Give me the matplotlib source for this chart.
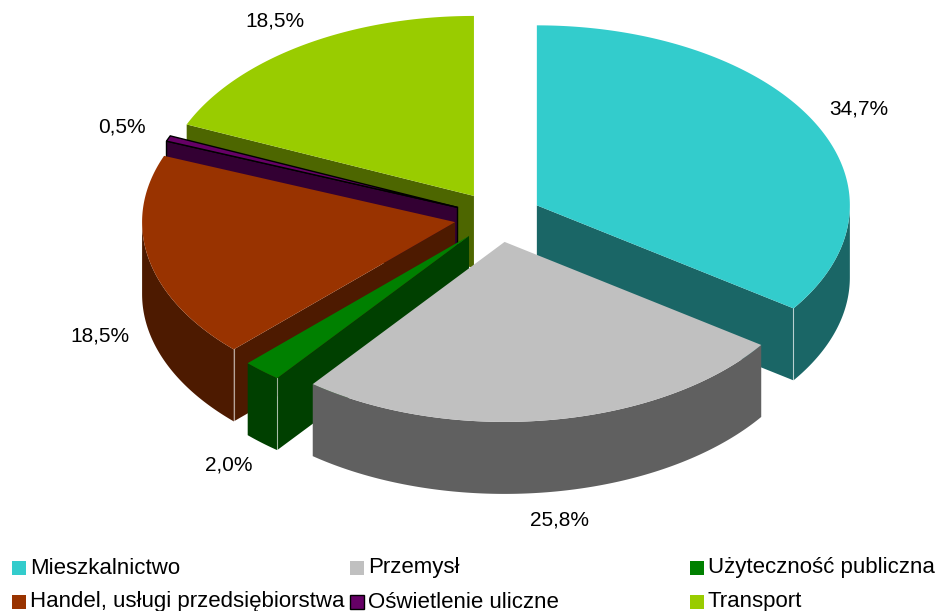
import numpy as np
import matplotlib
matplotlib.use("Agg")
import matplotlib.pyplot as plt
from matplotlib.patches import Polygon, Rectangle

# energy use by sector, share in percent (clockwise from 12 o'clock)
categories = [
    "Mieszkalnictwo",
    "Przemysł",
    "Użyteczność publiczna",
    "Handel, usługi przedsiębiorstwa",
    "Oświetlenie uliczne",
    "Transport",
]
shares = [34.7, 25.8, 2.0, 18.5, 0.5, 18.5]
top_colors = ["#33CCCC", "#C0C0C0", "#008000", "#993300", "#660066", "#99CC00"]
side_colors = ["#1A6666", "#606060", "#004000", "#4D1A00", "#330033", "#4D6600"]
legend_rows = [[0, 1, 2], [3, 4, 5]]

plt.rcParams["font.family"] = ["Liberation Sans", "DejaVu Sans"]

W, H = 938, 611
fig = plt.figure(figsize=(W / 100, H / 100), dpi=100)
ax = fig.add_axes([0, 0, 1, 1])
ax.set_xlim(0, W)
ax.set_ylim(H, 0)
ax.axis("off")

# pie geometry in pixel units (y grows downward)
CX, CY = 498, 217
RX, RY = 313, 180
DEPTH = 72
EXPLODE = 0.14
LABEL_R = 1.3


def rim(ox, oy, deg, dz=0.0):
    t = np.radians(deg)
    return ox + RX * np.sin(t), oy - RY * np.cos(t) + dz


edges = np.concatenate([[0], np.cumsum(shares)]) * 3.6
slices = []
for i, v in enumerate(shares):
    a0, a1 = edges[i], edges[i + 1]
    mid = 0.5 * (a0 + a1)
    ox, oy = rim(CX, CY, mid)
    ox = CX + EXPLODE * (ox - CX)
    oy = CY + EXPLODE * (oy - CY)
    slices.append((i, a0, a1, mid, ox, oy))

# back-to-front painting
slices.sort(key=lambda s: -np.cos(np.radians(s[3])))

z = 1
for i, a0, a1, mid, ox, oy in slices:
    top, side = top_colors[i], side_colors[i]
    ec = "black" if categories[i] == "Oświetlenie uliczne" else "none"
    lw = 1.0 if ec != "none" else 0

    # radial faces turned toward the viewer
    faces = []
    if np.sin(np.radians(a0)) < -1e-9:
        faces.append(a0)
    if np.sin(np.radians(a1)) > 1e-9:
        faces.append(a1)
    for a in faces:
        x1, y1 = rim(ox, oy, a)
        pts = [(ox, oy), (x1, y1), (x1, y1 + DEPTH), (ox, oy + DEPTH)]
        ax.add_patch(Polygon(pts, closed=True, facecolor=side, edgecolor=ec,
                             linewidth=lw, zorder=z))
        z += 1

    # curved outer wall on the front half
    w0, w1 = max(a0, 90.0), min(a1, 270.0)
    if w1 > w0:
        th = np.linspace(w0, w1, max(3, int((w1 - w0) * 2)))
        xs, ys = rim(ox, oy, th)
        pts = np.column_stack([np.concatenate([xs, xs[::-1]]),
                               np.concatenate([ys, ys[::-1] + DEPTH])])
        ax.add_patch(Polygon(pts, closed=True, facecolor=side, edgecolor=ec,
                             linewidth=lw, zorder=z))
        z += 1
        for a in faces:
            if 90.0 < a < 270.0:
                x1, y1 = rim(ox, oy, a)
                ax.plot([x1, x1], [y1, y1 + DEPTH], color="white", alpha=0.6,
                        linewidth=0.8, zorder=z)
        z += 1

    # top face
    th = np.linspace(a0, a1, max(3, int((a1 - a0) * 2)))
    xs, ys = rim(ox, oy, th)
    pts = np.column_stack([np.concatenate([[ox], xs]), np.concatenate([[oy], ys])])
    ax.add_patch(Polygon(pts, closed=True, facecolor=top, edgecolor=ec,
                         linewidth=lw, zorder=z))
    z += 1

# percentage labels outside each slice
for i, a0, a1, mid, ox, oy in slices:
    lx, ly = rim(CX, CY, mid)
    lx = CX + LABEL_R * (lx - CX)
    ly = CY + LABEL_R * (ly - CY)
    if np.cos(np.radians(mid)) < 0:
        ly += DEPTH
    txt = f"{shares[i]:.1f}%".replace(".", ",")
    ax.text(lx, ly, txt, fontsize=15, ha="center", va="center", color="black",
            zorder=z)

# legend, three columns by two rows
col_x = [12, 350, 690]
row_y = [568, 602]
SQ = 14
for r, row in enumerate(legend_rows):
    for c, idx in enumerate(row):
        x, y = col_x[c], row_y[r]
        ec = "black" if categories[idx] == "Oświetlenie uliczne" else "none"
        ax.add_patch(Rectangle((x, y - SQ / 2), SQ, SQ, facecolor=top_colors[idx],
                               edgecolor=ec, linewidth=1.0, zorder=z))
        ax.text(x + SQ + 4, y, categories[idx], fontsize=16, ha="left",
                va="center", color="black", zorder=z)

fig.savefig("out.png", dpi=100, facecolor="white")
